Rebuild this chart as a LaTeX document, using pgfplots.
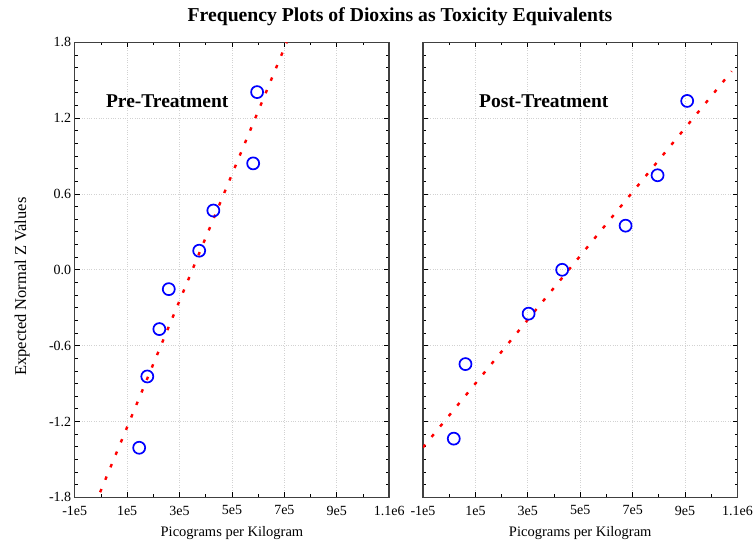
\documentclass[border=0pt]{standalone}
\usepackage{fontspec}
\setmainfont{Liberation Serif}
\usepackage{pgfplots}
\pgfplotsset{compat=1.18}

\pgfplotsset{
  panel/.style={
    scale only axis,
    width=314.5pt, height=455pt,
    xmin=-1e5, xmax=1.1e6,
    ymin=-1.8, ymax=1.8,
    xtick={-1e5,1e5,3e5,5e5,7e5,9e5,1.1e6},
    xticklabels={-1e5,1e5,3e5,5e5,7e5,9e5,1.1e6},
    ytick={-1.8,-1.2,-0.6,0,0.6,1.2,1.8},
    minor x tick num=1,
    minor y tick num=5,
    tick align=inside,
    major tick length=5pt,
    minor tick length=3pt,
    tick style={black, line width=0.8pt},
    axis line style={gray!50!black, line width=1.5pt},
    grid=major,
    major grid style={gray!35, dotted, line width=0.7pt},
    ticklabel style={font=\fontsize{14}{16}\selectfont},
    xticklabel style={yshift=-5pt},
    label style={font=\fontsize{14.5}{17}\selectfont},
    xlabel={Picograms per Kilogram},
    xlabel style={at={(axis description cs:0.5,-0.079)}, anchor=center},
    scaled ticks=false,
    clip=true,
  },
  pts/.style={only marks, mark=o, mark size=6pt, blue, line width=1.7pt},
  fit/.style={red, line width=2.4pt, dash pattern=on 3.5pt off 10pt, no marks},
}

\begin{document}
\begin{tikzpicture}
\path[use as bounding box] (-74.7pt,-49pt) rectangle (678.3pt,497.3pt);

\begin{axis}[panel, at={(0pt,0pt)}, anchor=south west,
  yticklabels={-1.8,-1.2,-0.6,0.0,0.6,1.2,1.8},
  ylabel={Expected Normal Z Values},
  ylabel style={at={(axis description cs:-0.167,0.463)}, anchor=center,
    font=\fontsize{16.5}{19}\selectfont}]
\addplot[pts] coordinates {
  (1.46e5,-1.408) (1.77e5,-0.844) (2.23e5,-0.469) (2.59e5,-0.153)
  (3.75e5,0.151) (4.29e5,0.469) (5.81e5,0.842) (5.96e5,1.406)
};
\addplot[fit] coordinates {(-3e3,-1.76) (7.09e5,1.8)};
\node[font=\fontsize{19.5}{22}\bfseries\selectfont] at (axis cs:2.53e5,1.33) {Pre-Treatment};
\end{axis}

\begin{axis}[panel, at={(348.3pt,0pt)}, anchor=south west,
  yticklabels={}]
\addplot[pts] coordinates {
  (1.74e4,-1.336) (0.62e5,-0.746) (3.03e5,-0.347) (4.31e5,0)
  (6.73e5,0.349) (7.95e5,0.748) (9.08e5,1.336)
};
\addplot[fit] coordinates {(-1e5,-1.405) (1.078e6,1.571)};
\node[font=\fontsize{19.5}{22}\bfseries\selectfont] at (axis cs:3.61e5,1.33) {Post-Treatment};
\end{axis}

\node[anchor=base, font=\fontsize{19.7}{22}\bfseries\selectfont] at (325.3pt,475.3pt)
  {Frequency Plots of Dioxins as Toxicity Equivalents};
\end{tikzpicture}
\end{document}
